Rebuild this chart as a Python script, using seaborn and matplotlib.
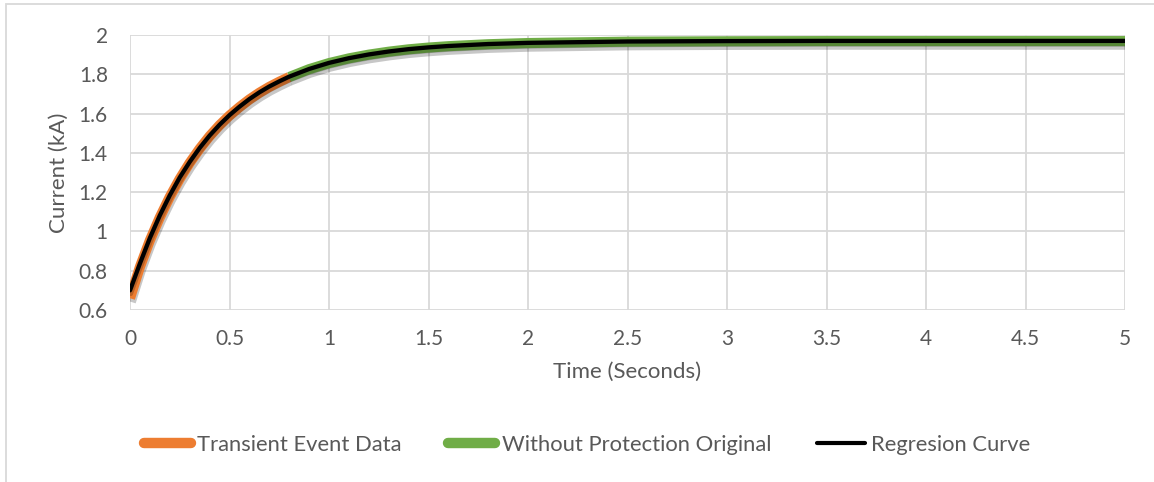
import matplotlib
matplotlib.use("Agg")
import matplotlib.pyplot as plt
import matplotlib.patheffects as pe
from matplotlib.patches import Rectangle
from matplotlib.lines import Line2D
import seaborn as sns
import pandas as pd

# Transient event samples (kA) over the first part of the event
transient_t = [0.0, 0.05, 0.1, 0.15, 0.2, 0.25, 0.3, 0.35, 0.4, 0.45, 0.5,
               0.55, 0.6, 0.65, 0.7, 0.75, 0.8]
transient_i = [0.66, 0.82, 0.955, 1.072, 1.176, 1.268, 1.349, 1.421, 1.485,
               1.541, 1.590, 1.633, 1.672, 1.706, 1.736, 1.762, 1.786]

# Original response without protection (kA)
original_t = [0.8, 0.9, 1.0, 1.1, 1.2, 1.3, 1.4, 1.5, 1.6, 1.8, 2.0, 2.5,
              3.0, 3.5, 4.0, 4.5, 5.0]
original_i = [1.786, 1.826, 1.857, 1.881, 1.900, 1.915, 1.927, 1.936, 1.943,
              1.953, 1.959, 1.966, 1.968, 1.969, 1.969, 1.969, 1.969]

# Fitted regression curve (kA)
regression_t = [0.0, 0.05, 0.1, 0.15, 0.2, 0.25, 0.3, 0.35, 0.4, 0.45, 0.5,
                0.55, 0.6, 0.65, 0.7, 0.75, 0.8, 0.9, 1.0, 1.1, 1.2, 1.3,
                1.4, 1.5, 1.6, 1.8, 2.0, 2.5, 3.0, 3.5, 4.0, 4.5, 5.0]
regression_i = [0.70, 0.837, 0.967, 1.082, 1.184, 1.275, 1.354, 1.425, 1.488,
                1.543, 1.592, 1.635, 1.674, 1.708, 1.738, 1.764, 1.788, 1.827,
                1.858, 1.882, 1.901, 1.916, 1.928, 1.937, 1.944, 1.954, 1.960,
                1.967, 1.969, 1.970, 1.970, 1.970, 1.970]

series_names = ["Transient Event Data", "Without Protection Original", "Regresion Curve"]
series_colors = ["#ED7D31", "#70AD47", "#000000"]
series_widths = [7.3, 7.3, 3.1]
legend_widths = [7.5, 7.5, 3.0]

x_ticks = [0, 0.5, 1, 1.5, 2, 2.5, 3, 3.5, 4, 4.5, 5]
x_tick_labels = ["0", "0.5", "1", "1.5", "2", "2.5", "3", "3.5", "4", "4.5", "5"]
y_ticks = [0.6, 0.8, 1.0, 1.2, 1.4, 1.6, 1.8, 2.0]
y_tick_labels = ["0.6", "0.8", "1", "1.2", "1.4", "1.6", "1.8", "2"]

sns.set_theme(style="whitegrid")
plt.rcParams["font.family"] = ["Lato", "DejaVu Sans"]

text_color = "#595959"
grid_color = "#D9D9D9"

fig = plt.figure(figsize=(11.54, 4.82), dpi=100)
ax = fig.add_axes([130 / 1154, 1 - 310 / 482, 995 / 1154, 275 / 482])

frames = [
    pd.DataFrame({"t": transient_t, "i": transient_i}),
    pd.DataFrame({"t": original_t, "i": original_i}),
    pd.DataFrame({"t": regression_t, "i": regression_i}),
]
draw_order = [1, 0, 2]
for k in draw_order:
    sns.lineplot(data=frames[k], x="t", y="i", ax=ax, color=series_colors[k],
                 linewidth=series_widths[k], legend=False, sort=False,
                 zorder=3 + k)
    line = ax.lines[-1]
    line.set_solid_capstyle("round" if k == 2 else "butt")
    line.set_path_effects([
        pe.SimpleLineShadow(offset=(0.6, -2.6), shadow_color="#000000", alpha=0.22),
        pe.Normal(),
    ])

ax.set_xlim(0, 5)
ax.set_ylim(0.6, 2.0)
ax.set_xticks(x_ticks)
ax.set_xticklabels(x_tick_labels)
ax.set_yticks(y_ticks)
ax.set_yticklabels(y_tick_labels)
ax.tick_params(axis="both", colors=text_color, labelsize=15, length=0)
ax.tick_params(axis="x", pad=14)
ax.tick_params(axis="y", pad=16)
ax.grid(True, color=grid_color, linewidth=1.3)
for s in ax.spines.values():
    s.set_visible(False)
ax.set_facecolor("white")

ax.set_xlabel("Time (Seconds)", fontsize=16, color=text_color, labelpad=9)
ax.set_ylabel("Current (kA)", fontsize=16, color=text_color, labelpad=7)

handles = [Line2D([0], [0], color=c, linewidth=w, solid_capstyle="round")
           for c, w in zip(series_colors, legend_widths)]
leg = fig.legend(handles, series_names, loc="center", ncol=3,
                 bbox_to_anchor=(587 / 1154, 1 - 445 / 482), frameon=False,
                 fontsize=15.8, handlelength=2.15, handletextpad=0.3,
                 columnspacing=2.1, labelcolor=text_color)

fig.patches.append(Rectangle((6 / 1154, -0.1), 1.2, 1.1 - 4 / 482,
                             transform=fig.transFigure, fill=False,
                             edgecolor=grid_color, linewidth=1.3))

fig.savefig("out.png", dpi=100, facecolor="white")
